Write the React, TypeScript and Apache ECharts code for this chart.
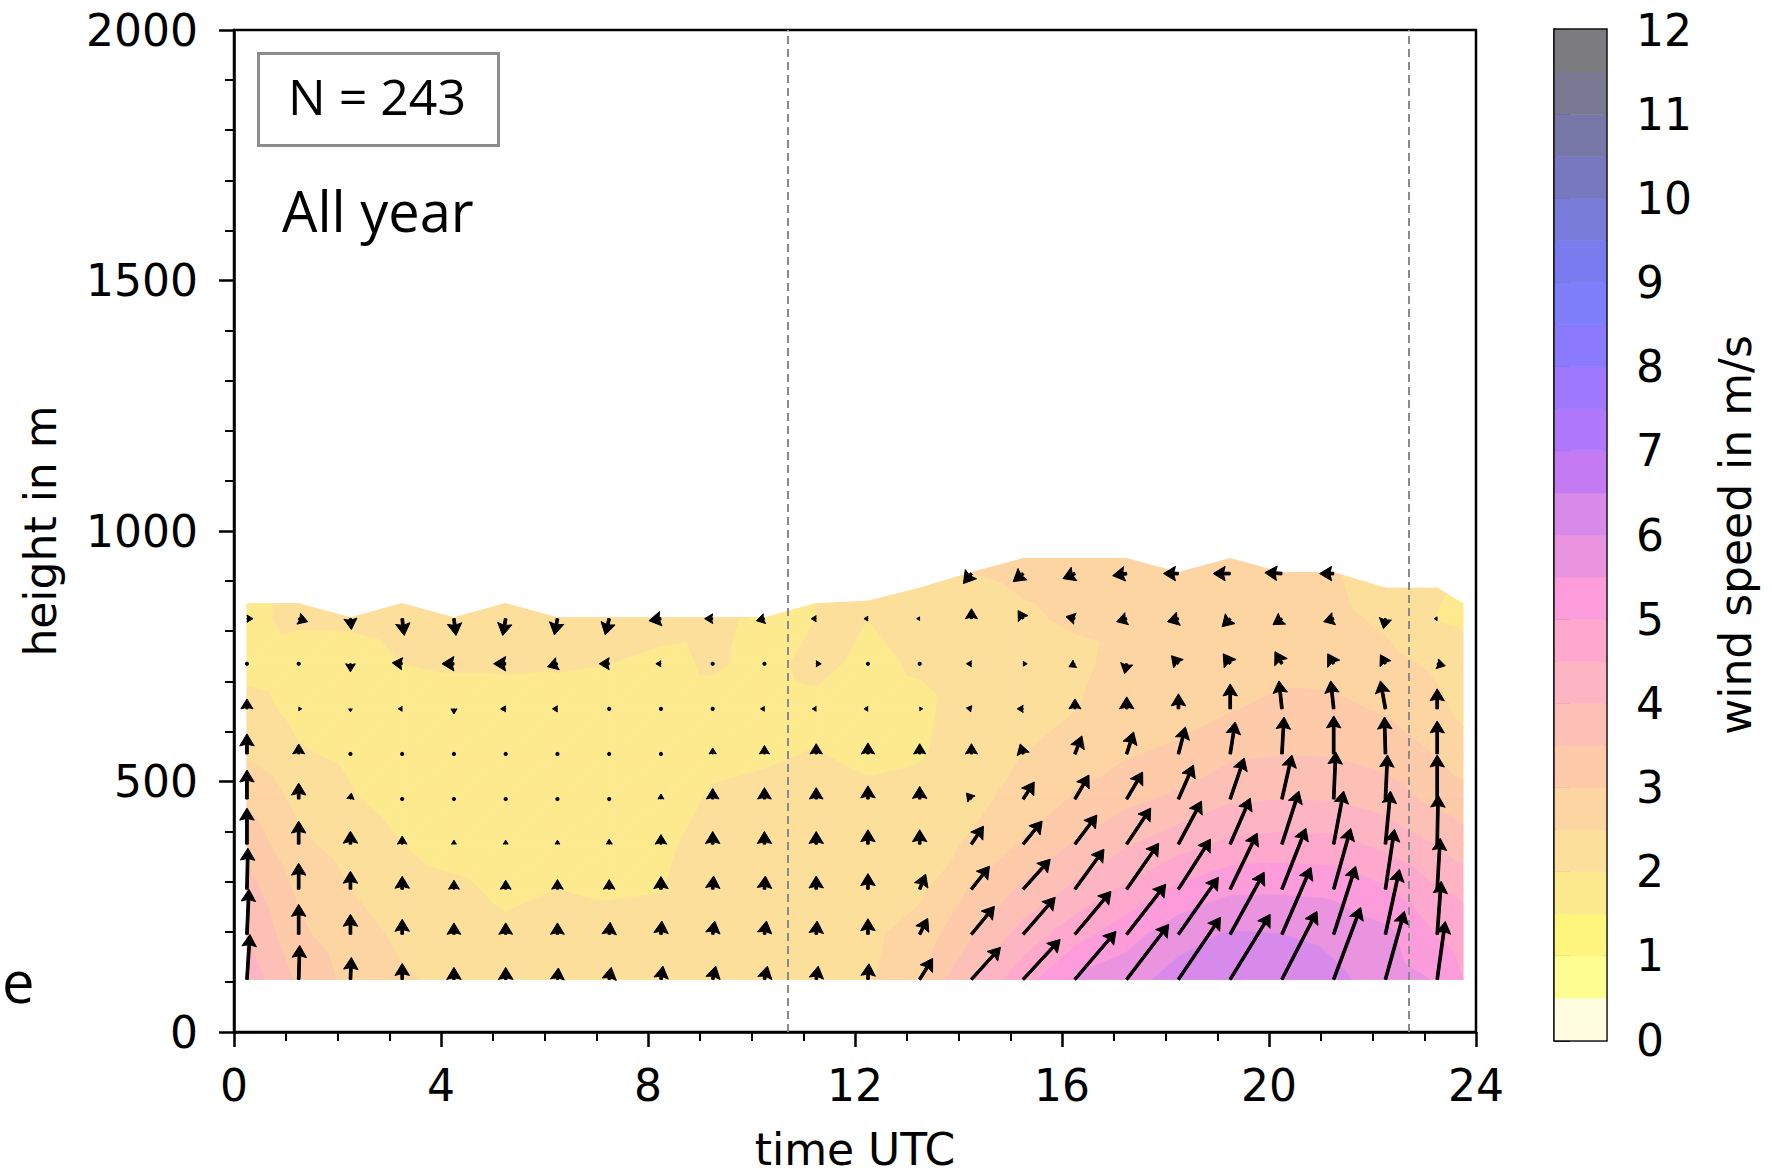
import React, { useEffect, useRef } from "react";
import * as echarts from "echarts";

// ---------- data ----------
// contour grid columns (time UTC, h)
const TIMES = [0.25, 1.25, 2.25, 3.25, 4.25, 5.25, 6.25, 7.25, 8.25, 9.25, 10.25, 11.25, 12.25, 13.25, 14.25, 15.25, 16.25, 17.25, 18.25, 19.25, 20.25, 21.25, 22.25, 23.25, 23.75];
// contour grid rows (height, m)
const HEIGHTS = [105, 195, 285, 375, 465, 555, 645, 735, 825];
// upper edge of valid data per column (m)
const TOP_HEIGHTS = [855, 855, 827, 855, 827, 855, 827, 827, 827, 827, 827, 855, 860, 886, 917, 945, 945, 945, 917, 945, 917, 917, 886, 886, 855];

// wind speed (m/s) per height row, one value per column
const SPEED_105 = [4.3, 3.4, 2.85, 2.55, 2.4, 2.3, 2.2, 2.2, 2.2, 2.3, 2.3, 2.35, 2.45, 3.0, 4.0, 4.8, 5.55, 5.8, 6.2, 6.3, 6.35, 6.1, 5.8, 5.45, 5.0];
const SPEED_195 = [4.0, 3.1, 2.7, 2.4, 2.25, 2.1, 2.15, 2.15, 2.15, 2.3, 2.3, 2.35, 2.4, 2.7, 3.45, 4.2, 4.8, 5.3, 5.8, 6.05, 6.0, 5.87, 5.63, 4.97, 4.73];
const SPEED_285 = [3.7, 2.9, 2.5, 2.2, 2.1, 1.9, 2.0, 1.95, 1.98, 2.3, 2.3, 2.35, 2.3, 2.4, 3.05, 3.6, 4.1, 4.6, 5.1, 5.41, 5.42, 5.37, 5.05, 4.52, 4.38];
const SPEED_375 = [3.3, 2.6, 2.3, 2.0, 1.8, 1.7, 1.8, 1.8, 1.9, 2.2, 2.25, 2.3, 2.25, 2.3, 2.56, 3.05, 3.55, 3.95, 4.3, 4.61, 4.69, 4.65, 4.37, 3.97, 3.71];
const SPEED_465 = [2.95, 2.35, 2.05, 1.8, 1.6, 1.6, 1.6, 1.6, 1.8, 2.05, 2.1, 2.2, 2.1, 2.2, 2.35, 2.7, 3.05, 3.37, 3.6, 3.93, 3.99, 3.96, 3.76, 3.34, 3.19];
const SPEED_555 = [2.45, 2.05, 1.9, 1.6, 1.5, 1.6, 1.6, 1.6, 1.9, 1.9, 1.95, 2.02, 1.9, 1.95, 2.25, 2.5, 2.78, 2.95, 3.1, 3.39, 3.48, 3.46, 3.29, 2.97, 2.73];
const SPEED_645 = [2.2, 1.85, 1.7, 1.6, 1.6, 1.7, 1.8, 1.7, 1.85, 1.85, 1.85, 1.9, 1.85, 1.9, 2.2, 2.3, 2.48, 2.75, 2.8, 2.97, 3.12, 3.1, 2.94, 2.62, 2.35];
const SPEED_735 = [1.8, 1.7, 1.75, 2.0, 2.1, 2.1, 2.05, 2.0, 1.9, 2.05, 1.9, 2.1, 1.9, 2.05, 2.2, 2.3, 2.4, 2.65, 2.7, 2.8, 2.85, 2.85, 2.67, 2.4, 2.2];
const SPEED_825 = [1.9, 2.1, 2.1, 2.2, 2.3, 2.3, 2.2, 2.2, 2.15, 2.1, 1.9, 2.0, 2.0, 2.15, 2.35, 2.45, 2.55, 2.6, 2.65, 2.7, 2.7, 2.65, 2.4, 1.98, 1.9];
const SPEED_TOP = [1.9, 2.1, 2.1, 2.2, 2.3, 2.3, 2.2, 2.2, 2.15, 2.1, 1.95, 2.0, 2.1, 2.3, 2.5, 2.6, 2.65, 2.6, 2.6, 2.6, 2.6, 2.55, 2.2, 2.05, 1.9];

// quiver columns (time UTC, h)
const ARROW_TIMES = [0.25, 1.25, 2.25, 3.25, 4.25, 5.25, 6.25, 7.25, 8.25, 9.25, 10.25, 11.25, 12.25, 13.25, 14.25, 15.25, 16.25, 17.25, 18.25, 19.25, 20.25, 21.25, 22.25, 23.25];
const ARROW_TIMES_915 = [14.25, 15.25, 16.25, 17.25, 18.25, 19.25, 20.25, 21.25];
// mean wind vector [u, v] in m/s per height row
const WIND_105 = [[0.25, 3.75], [0.08, 2.83], [0.08, 1.83], [0, 1.33], [0, 1.0], [0, 1.0], [0.08, 0.95], [0.17, 1.0], [0.17, 1.1], [0.25, 1.1], [0.25, 1.1], [0.17, 1.1], [0.08, 1.3], [1.08, 1.75], [2.42, 2.67], [3.08, 3.33], [3.42, 4.0], [3.5, 4.58], [3.5, 5.17], [3.33, 5.42], [2.92, 5.67], [2.25, 6.0], [1.58, 5.67], [0.67, 4.83]];
const WIND_195 = [[0.17, 3.75], [0, 2.5], [0, 1.67], [0, 1.25], [0, 0.95], [0, 0.95], [0, 0.95], [0.08, 1.0], [0.08, 1.1], [0.17, 1.1], [0.17, 1.1], [0.08, 1.1], [0, 1.3], [0.67, 1.33], [1.92, 2.33], [2.67, 3.08], [3.0, 3.58], [3.25, 4.17], [3.33, 4.75], [2.83, 5.17], [2.42, 5.58], [1.83, 5.67], [1.17, 5.42], [0.33, 4.42]];
const WIND_285 = [[0.08, 3.42], [0, 2.17], [0, 1.5], [0, 1.08], [0, 0.75], [0, 0.75], [0, 0.8], [0, 0.8], [0, 1.05], [0.08, 1.1], [0.08, 1.1], [0, 1.1], [0, 1.3], [0.5, 1.25], [1.5, 1.92], [2.25, 2.5], [2.42, 3.33], [2.67, 3.83], [2.67, 4.17], [2.25, 4.67], [2.0, 5.08], [1.42, 5.08], [0.75, 5.0], [0.25, 4.25]];
const WIND_375 = [[0, 3.0], [0, 1.92], [0, 1.08], [0, 0.67], [0, 0.33], [0, 0.33], [0, 0.33], [0, 0.42], [0, 0.8], [0, 1.05], [0, 1.05], [0, 1.05], [0, 1.2], [0, 1.2], [1.0, 1.5], [1.58, 1.92], [1.83, 2.42], [2.0, 3.0], [1.92, 3.58], [1.67, 3.83], [1.42, 4.42], [0.83, 4.42], [0.42, 4.42], [0.08, 4.08]];
const WIND_465 = [[0, 2.42], [0, 1.33], [0.08, 0.5], [0, 0.08], [0, 0.04], [0.04, 0], [0.04, 0], [0.04, 0], [0, 0.42], [0, 0.88], [0, 0.95], [0, 0.95], [0, 1.1], [0, 1.05], [-0.42, 0.5], [0.92, 1.42], [1.17, 2.0], [1.33, 2.25], [1.25, 2.83], [1.17, 3.42], [0.83, 3.67], [0.17, 3.92], [0.17, 3.67], [0, 3.67]];
const WIND_555 = [[0, 1.67], [0, 0.83], [0.04, 0], [0, 0.08], [0, 0.04], [0.04, 0], [0.04, 0], [0.04, 0], [0.04, 0], [0, 0.5], [0, 0.7], [0, 0.85], [0, 0.92], [0, 0.85], [0, 0.85], [-0.25, 0.83], [0.58, 1.5], [0.58, 1.83], [0.58, 2.25], [0.42, 2.67], [0.17, 3.08], [0, 3.17], [-0.08, 3.08], [0, 2.75]];
const WIND_645 = [[0, 0.83], [0.25, 0], [0, -0.25], [-0.33, 0], [0, -0.42], [-0.42, 0], [-0.42, 0], [0.04, 0], [0.04, 0], [0.04, 0], [-0.33, 0], [-0.33, 0], [-0.33, 0], [0.25, 0], [-0.42, 0.08], [-0.5, 0], [0, 0.83], [0, 1.0], [0, 1.25], [0, 2.08], [-0.25, 2.33], [-0.25, 2.33], [-0.42, 2.33], [0, 1.67]];
const WIND_735 = [[0.04, 0], [0.08, 0], [0, -0.67], [-0.83, 0.08], [-1.0, 0], [-1.0, 0], [-0.83, -0.25], [-0.83, 0], [-0.42, 0], [0.04, 0], [0.04, 0], [0.42, 0], [0.04, 0], [0.04, 0], [-0.42, 0], [0.33, 0], [-0.5, -0.25], [-0.17, -0.83], [-0.58, 0.67], [-0.58, 0.83], [-0.58, 1.0], [-0.5, 0.83], [-0.42, 0.75], [0.67, -0.17]];
const WIND_825 = [[0.5, 0], [0.75, -0.25], [0.08, -0.9], [0.17, -1.4], [0.17, -1.4], [-0.25, -1.4], [-0.25, -1.35], [-0.33, -1.35], [-1.0, -0.17], [-0.67, 0], [-0.67, -0.17], [-0.42, 0], [-0.33, 0], [-0.25, 0], [0, 0.83], [-0.42, 0.67], [-0.75, 0.17], [-0.83, -0.25], [-0.92, -0.25], [-0.67, -0.67], [-0.75, -0.5], [-0.83, -0.25], [-0.17, -0.83], [-0.25, 0]];
const WIND_915 = [[-0.67, -0.83], [-0.83, -0.67], [-1.0, -0.42], [-1.17, -0.17], [-1.25, 0], [-1.42, 0], [-1.42, 0.08], [-1.17, 0]];

// contour levels and colours (colour bar, 0.5 m/s steps)
const LEVELS = [0, 0.5, 1, 1.5, 2, 2.5, 3, 3.5, 4, 4.5, 5, 5.5, 6, 6.5, 7, 7.5, 8, 8.5, 9, 9.5, 10, 10.5, 11, 11.5, 12];
const BAND_COLORS = ["#FFFDE0", "#FEFD92", "#FEF57C", "#FEEA8E", "#FDDF9C", "#FDD5A2", "#FDCAAA", "#FDC0B6", "#FDB5C4", "#FDA8CC", "#FC9CDA", "#EA94E0", "#D88AEA", "#C47AF2", "#B078FC", "#9E78FE", "#8C7AFE", "#7F7FFC", "#787CEE", "#787CD8", "#7878C0", "#7878A8", "#7A7892", "#7B7B80"];
const DAY_MARKS = [10.7, 22.7];

// ---------- helpers ----------
const SPEED_ROWS = [SPEED_105, SPEED_195, SPEED_285, SPEED_375, SPEED_465, SPEED_555, SPEED_645, SPEED_735, SPEED_825, SPEED_TOP];
const WIND_ROWS: [number, number[][]][] = [
  [105, WIND_105], [195, WIND_195], [285, WIND_285], [375, WIND_375], [465, WIND_465],
  [555, WIND_555], [645, WIND_645], [735, WIND_735], [825, WIND_825],
];
const PX_PER_MS = 12;

function clipPoly(pts: number[][], level: number, keepAbove: boolean): number[][] {
  const out: number[][] = [];
  const n = pts.length;
  for (let i = 0; i < n; i++) {
    const a = pts[i];
    const b = pts[(i + 1) % n];
    const ina = keepAbove ? a[2] >= level : a[2] <= level;
    const inb = keepAbove ? b[2] >= level : b[2] <= level;
    if (ina) out.push(a);
    if (ina !== inb) {
      const t = (level - a[2]) / (b[2] - a[2]);
      out.push([a[0] + t * (b[0] - a[0]), a[1] + t * (b[1] - a[1]), level]);
    }
  }
  return out;
}

function polyArea(p: number[][]): number {
  let s = 0;
  for (let i = 0; i < p.length; i++) {
    const a = p[i], b = p[(i + 1) % p.length];
    s += a[0] * b[1] - b[0] * a[1];
  }
  return Math.abs(s / 2);
}

export default function App() {
  const ref = useRef<HTMLDivElement>(null);

  useEffect(() => {
    if (!ref.current) return;
    const chart = echarts.init(ref.current, undefined, { renderer: "svg" });

    const cellData: number[][] = [];
    for (let c = 0; c < TIMES.length - 1; c++) {
      for (let r = 0; r < HEIGHTS.length; r++) {
        cellData.push([(TIMES[c] + TIMES[c + 1]) / 2, HEIGHTS[r] + 45, c, r]);
      }
    }

    const arrowData: number[][] = [];
    WIND_ROWS.forEach(([h, row]) => {
      row.forEach((w, i) => arrowData.push([ARROW_TIMES[i], h, w[0], w[1]]));
    });
    WIND_915.forEach((w, i) => arrowData.push([ARROW_TIMES_915[i], 915, w[0], w[1]]));

    const barData = BAND_COLORS.map((_, k) => [0.5, (LEVELS[k] + LEVELS[k + 1]) / 2, LEVELS[k], LEVELS[k + 1], k]);

    const font = "DejaVu Sans";
    const axisText = { fontFamily: font, fontSize: 44, color: "#000" };

    const option: any = {
      animation: false,
      backgroundColor: "#fff",
      grid: [
        { left: 234, top: 30, width: 1242, height: 1010, show: true, borderColor: "#000", borderWidth: 2.5, backgroundColor: "transparent" },
        { left: 1555, top: 30, width: 51, height: 1010, show: true, borderColor: "#111", borderWidth: 3.5, backgroundColor: "transparent" },
      ],
      xAxis: [
        {
          type: "value", gridIndex: 0, min: 0, max: 24, interval: 4,
          axisLine: { show: true, lineStyle: { color: "#000", width: 2.5 } },
          axisTick: { show: true, length: 15, lineStyle: { color: "#000", width: 2.5 } },
          minorTick: { show: true, splitNumber: 4, length: 9, lineStyle: { color: "#000", width: 2 } },
          splitLine: { show: false },
          axisLabel: { ...axisText, margin: 31 },
          name: "time UTC", nameLocation: "middle", nameGap: 95,
          nameTextStyle: { ...axisText },
        },
        { type: "value", gridIndex: 1, min: 0, max: 1, show: false },
      ],
      yAxis: [
        {
          type: "value", gridIndex: 0, min: 0, max: 2000, interval: 500,
          axisLine: { show: true, lineStyle: { color: "#000", width: 2.5 } },
          axisTick: { show: true, length: 15, lineStyle: { color: "#000", width: 2.5 } },
          minorTick: { show: true, splitNumber: 5, length: 9, lineStyle: { color: "#000", width: 2 } },
          splitLine: { show: false },
          axisLabel: { ...axisText, margin: 36, formatter: (v: number) => String(v) },
          name: "height in m", nameLocation: "middle", nameGap: 172, nameRotate: 90,
          nameTextStyle: { ...axisText },
        },
        {
          type: "value", gridIndex: 1, min: 0, max: 12, interval: 1, position: "right",
          axisLine: { show: true, lineStyle: { color: "#111", width: 3.5 } },
          axisTick: { show: true, length: 15, lineStyle: { color: "#000", width: 2.5 } },
          splitLine: { show: false },
          axisLabel: { ...axisText, margin: 30 },
          name: "wind speed in m/s", nameLocation: "middle", nameGap: 107, nameRotate: 90,
          nameTextStyle: { ...axisText },
        },
      ],
      series: [
        {
          type: "custom", xAxisIndex: 0, yAxisIndex: 0, z: 1, clip: true,
          data: cellData,
          encode: { x: 0, y: 1 },
          renderItem: (params: any, api: any) => {
            const c = api.value(2);
            const r = api.value(3);
            const corner = (cc: number, rr: number) => {
              const h = rr < HEIGHTS.length ? HEIGHTS[rr] : TOP_HEIGHTS[cc];
              const p = api.coord([TIMES[cc], h]);
              return [p[0], p[1], SPEED_ROWS[rr][cc]];
            };
            const p00 = corner(c, r), p10 = corner(c + 1, r), p11 = corner(c + 1, r + 1), p01 = corner(c, r + 1);
            const tris = [[p00, p10, p11], [p00, p11, p01]];
            const children: any[] = [];
            for (const tri of tris) {
              const vals = tri.map((p) => p[2]);
              const vmin = Math.min(...vals), vmax = Math.max(...vals);
              for (let k = 0; k < BAND_COLORS.length; k++) {
                const lo = LEVELS[k], hi = LEVELS[k + 1];
                if (hi < vmin || lo > vmax) continue;
                let poly = clipPoly(tri, lo, true);
                if (poly.length < 3) continue;
                poly = clipPoly(poly, hi, false);
                if (poly.length < 3 || polyArea(poly) < 0.01) continue;
                children.push({
                  type: "polygon",
                  shape: { points: poly.map((p) => [p[0], p[1]]) },
                  style: { fill: BAND_COLORS[k], stroke: BAND_COLORS[k], lineWidth: 1 },
                });
              }
            }
            return { type: "group", children };
          },
          markLine: {
            silent: true, symbol: "none", label: { show: false },
            lineStyle: { type: [8, 5], color: "#8a8a8a", width: 2 },
            data: DAY_MARKS.map((x) => ({ xAxis: x })),
          },
        },
        {
          type: "custom", xAxisIndex: 0, yAxisIndex: 0, z: 5, clip: false,
          data: arrowData,
          encode: { x: 0, y: 1 },
          renderItem: (params: any, api: any) => {
            const p = api.coord([api.value(0), api.value(1)]);
            const dx = api.value(2) * PX_PER_MS;
            const dy = -api.value(3) * PX_PER_MS;
            const L = Math.hypot(dx, dy);
            if (L < 2.5) {
              return { type: "circle", shape: { cx: p[0], cy: p[1], r: 2.1 }, style: { fill: "#000" } };
            }
            const sw = 2.7, hl = 12, hal = 10.5, hw = 14.5;
            let local: number[][];
            if (L >= hl) {
              local = [[0, sw / 2], [L - hal, sw / 2], [L - hl, hw / 2], [L, 0], [L - hl, -hw / 2], [L - hal, -sw / 2], [0, -sw / 2]];
            } else {
              const s = L / hl;
              local = [[0, sw / 2], [hl - hal, sw / 2], [0, hw / 2], [hl, 0], [0, -hw / 2], [hl - hal, -sw / 2], [0, -sw / 2]].map((q) => [q[0] * s, q[1] * s]);
            }
            const ca = dx / L, sa = dy / L;
            const pts = local.map((q) => [p[0] + q[0] * ca - q[1] * sa, p[1] + q[0] * sa + q[1] * ca]);
            return { type: "polygon", shape: { points: pts }, style: { fill: "#000", stroke: "#000", lineWidth: 1, lineJoin: "round" } };
          },
        },
        {
          type: "custom", xAxisIndex: 1, yAxisIndex: 1, z: 1,
          data: barData,
          encode: { x: 0, y: 1 },
          renderItem: (params: any, api: any) => {
            const k = api.value(4);
            const a = api.coord([0, api.value(2)]);
            const b = api.coord([1, api.value(3)]);
            return {
              type: "rect",
              shape: { x: a[0], y: b[1], width: b[0] - a[0], height: a[1] - b[1] },
              style: { fill: BAND_COLORS[k], stroke: BAND_COLORS[k], lineWidth: 0.6 },
            };
          },
        },
      ],
      graphic: [
        { type: "rect", left: 257, top: 52, shape: { width: 240, height: 92 }, style: { fill: "#fff", stroke: "#8c8c8c", lineWidth: 3 }, z: 10 },
        { type: "text", x: 377, y: 96, style: { text: "N = 243", font: "50px 'Open Sans'", fill: "#000", textAlign: "center", textVerticalAlign: "middle" }, z: 11 },
        { type: "text", x: 282, y: 210, style: { text: "All year", font: "56px 'Open Sans'", fill: "#000", textAlign: "left", textVerticalAlign: "middle" }, z: 11 },
        { type: "text", x: 2, y: 980, style: { text: "e", font: "58px 'Open Sans'", fill: "#000", textAlign: "left", textVerticalAlign: "middle" }, z: 11 },
      ],
    };

    chart.setOption(option);
    return () => chart.dispose();
  }, []);

  return <div ref={ref} style={{ position: "absolute", left: 0, top: 0, width: 1772, height: 1176 }} />;
}
